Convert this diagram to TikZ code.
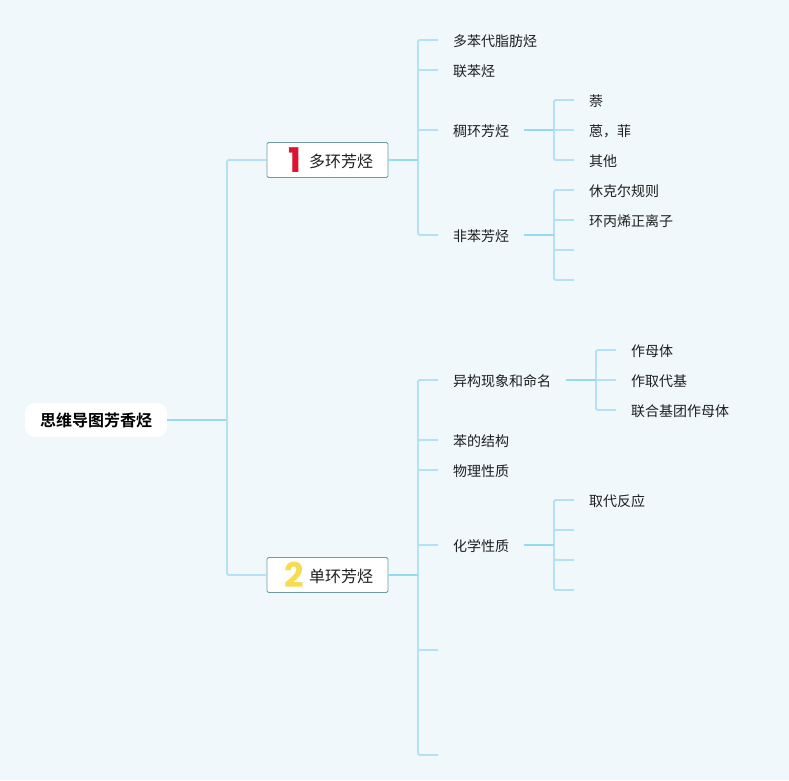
\documentclass[tikz,border=0pt]{standalone}
\usepackage{fontspec}
\setmainfont{Noto Sans CJK SC}
\newfontfamily\boldcjk{Noto Sans CJK SC Bold}
\newfontfamily\numfont{Poppins Bold}
\definecolor{bgc}{HTML}{F0F8FB}
\definecolor{linec}{HTML}{B4E2F4}
\definecolor{stemc}{HTML}{95DAEF}
\definecolor{edgec}{HTML}{6C9C9C}
\definecolor{redc}{HTML}{DC1430}
\definecolor{yelc}{HTML}{F7DB50}
\tikzset{
  conn/.style={draw=linec,line width=1.8pt,rounded corners=1.5pt},
  stem/.style={draw=stemc,line width=1.9pt},
  leaflabel/.style={anchor=west,inner xsep=15pt,inner ysep=0pt,font=\fontsize{14}{16}\selectfont,text=black!88},
  branchbox/.style={draw=edgec,fill=white,line width=0.8pt,rounded corners=1.5pt,minimum width=121pt,minimum height=35pt,inner sep=0pt},
  rootbox/.style={fill=white,rounded corners=10pt,minimum width=142pt,minimum height=34pt,inner sep=0pt,font=\boldcjk\fontsize{16}{18}\selectfont},
  branchtext/.style={inner sep=0pt,font=\fontsize{16}{18}\selectfont,text=black!88},
  numtext/.style={inner sep=0pt,font=\numfont\fontsize{34}{36}\selectfont}
}
\begin{document}
\begin{tikzpicture}[x=1pt,y=-1pt]
\fill[bgc] (0,0) rectangle (789,780);
\useasboundingbox (0,0) rectangle (789,780);

% main nodes
\node[rootbox] (root) at (96,420) {\raisebox{-1pt}{思维导图芳香烃}};
\node[branchbox] (b1) at (327.5,160) {};
\node[branchbox] (b2) at (327.5,575) {};
\node[numtext,text=redc] (n1) at (294.5,160) {1};
\node[numtext,text=yelc] (n2) at (294.5,575) {2};
\node[branchtext] (t1) at (341,161) {多环芳烃};
\node[branchtext] (t2) at (341,576) {单环芳烃};

% first level joints
\coordinate (jr) at (227,420);
\coordinate (j1) at (418,160);
\coordinate (j2) at (418,575);

% leaves of branch 1
\node[leaflabel] (a1) at (438,41) {多苯代脂肪烃};
\node[leaflabel] (a2) at (438,71) {联苯烃};
\node[leaflabel] (a3) at (438,131) {稠环芳烃};
\node[leaflabel] (a4) at (438,236) {非苯芳烃};
% leaves of a3
\node[leaflabel] (c1) at (574,101) {萘};
\node[leaflabel] (c2) at (574,131) {蒽，菲};
\node[leaflabel] (c3) at (574,161) {其他};
% leaves of a4
\node[leaflabel] (d1) at (574,191) {休克尔规则};
\node[leaflabel] (d2) at (574,221) {环丙烯正离子};
\coordinate (d3) at (574,250);
\coordinate (d4) at (574,280);
% leaves of branch 2
\node[leaflabel] (e1) at (438,381) {异构现象和命名};
\node[leaflabel] (e2) at (438,441) {苯的结构};
\node[leaflabel] (e3) at (438,471) {物理性质};
\node[leaflabel] (e4) at (438,546) {化学性质};
\coordinate (e5) at (438,650);
\coordinate (e6) at (438,755);
% leaves of e1
\node[leaflabel] (f1) at (616,351) {作母体};
\node[leaflabel] (f2) at (616,381) {作取代基};
\node[leaflabel] (f3) at (616,411) {联合基团作母体};
% leaves of e4
\node[leaflabel] (g1) at (574,501) {取代反应};
\coordinate (g2) at (574,530);
\coordinate (g3) at (574,560);
\coordinate (g4) at (574,590);

% connectors
\draw[stem] (root.east) -- (jr);
\draw[conn] (b1.west) -| (jr);
\draw[conn] (b2.west) -| (jr);

\foreach \t/\ya in {a1/40,a2/70,a3/130,a4/235}{
  \draw[conn] (\t.west |- 0,\ya) -| (j1);
}
\draw[stem] (b1.east) -- (j1);
\foreach \t/\ya in {e1/380,e2/440,e3/470,e4/545}{
  \draw[conn] (\t.west |- 0,\ya) -| (j2);
}
\draw[conn] (e5) -| (j2);
\draw[conn] (e6) -| (j2);
\draw[stem] (b2.east) -- (j2);

\coordinate (ja3) at (554,130);
\coordinate (ja4) at (554,235);
\coordinate (je1) at (596,380);
\coordinate (je4) at (554,545);
\draw[conn] (c1.west |- 0,100) -| (ja3);
\draw[conn] (c2.west |- ja3) -- (ja3);
\draw[conn] (c3.west |- 0,160) -| (ja3);
\draw[conn] (d1.west |- 0,190) -| (ja4);
\draw[conn] (d2.west |- 0,220) -| (ja4);
\draw[conn] (d3) -| (ja4);
\draw[conn] (d4) -| (ja4);
\draw[stem] (a3.east |- ja3) -- (ja3);
\draw[stem] (a4.east |- ja4) -- (ja4);

\draw[conn] (f1.west |- 0,350) -| (je1);
\draw[conn] (f2.west |- je1) -- (je1);
\draw[conn] (f3.west |- 0,410) -| (je1);
\draw[stem] (e1.east |- je1) -- (je1);

\draw[conn] (g1.west |- 0,500) -| (je4);
\draw[conn] (g2) -| (je4);
\draw[conn] (g3) -| (je4);
\draw[conn] (g4) -| (je4);
\draw[stem] (e4.east |- je4) -- (je4);
\end{tikzpicture}
\end{document}
